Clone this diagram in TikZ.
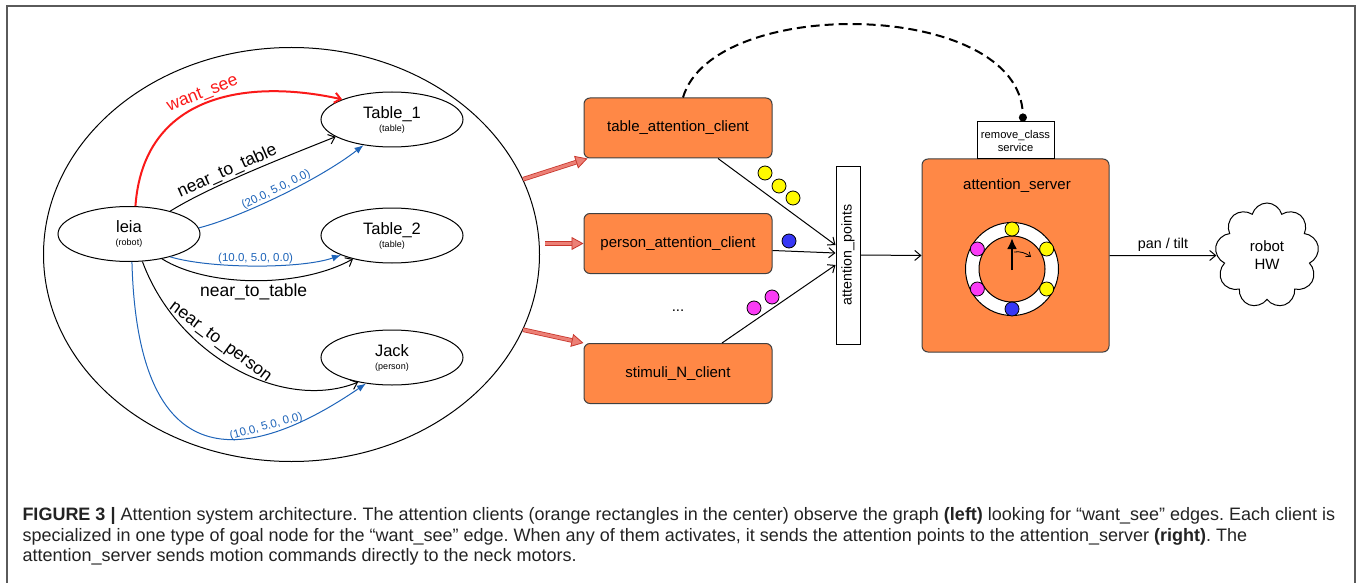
\documentclass[tikz,border=0pt]{standalone}
\usepackage{fontspec}
\setmainfont{Liberation Sans}
\usetikzlibrary{arrows.meta,shapes.geometric,shapes.symbols,calc}
\definecolor{clientorange}{RGB}{255,136,70}
\definecolor{edgeblue}{RGB}{30,100,185}
\definecolor{wantred}{RGB}{250,25,25}
\definecolor{fatfill}{RGB}{236,128,118}
\definecolor{fatline}{RGB}{200,55,45}
\definecolor{ptyellow}{RGB}{255,250,0}
\definecolor{ptblue}{RGB}{55,55,245}
\definecolor{ptmagenta}{RGB}{250,60,245}
\definecolor{framegray}{RGB}{90,90,90}
\definecolor{captiongray}{RGB}{35,35,35}
\newcommand{\fsz}[2]{\fontsize{#1}{#2}\selectfont}
\frenchspacing

\begin{document}
\begin{tikzpicture}[x=1pt,y=-1pt,line width=1pt,
    >={Straight Barb[length=6pt,width=10pt]},
    gnode/.style={draw,ellipse,minimum width=142pt,minimum height=55pt,inner sep=0pt,align=center,font=\fsz{16.5}{13}},
    client/.style={draw=black!75,fill=clientorange,rounded corners=6pt,minimum width=188pt,minimum height=60pt,font=\fsz{15}{18}},
    elabel/.style={font=\fsz{17.5}{20},inner sep=1pt},
    vlabel/.style={font=\fsz{11.5}{13},text=edgeblue,inner sep=1pt},
    blueedge/.style={edgeblue,-{Latex[length=9pt,width=7pt]}},
    fatarrow/.style={draw=fatline,double=fatfill,double distance=3pt,line width=0.8pt,-{Triangle[length=12pt,width=13pt,fill=fatfill]}},
    dot/.style={draw,line width=0.8pt}]
    \useasboundingbox (0,0) rectangle (1360,583);
    \draw[framegray,line width=1.5pt] (7,583) -- (7,6) -- (1355,6) -- (1355,583);

    \node[draw,ellipse,minimum width=496pt,minimum height=414pt] (graph) at (291.5,254.5) {};
    \node[gnode] (leia) at (129,234) {leia\\\fsz{9}{13}(robot)};
    \node[gnode] (t1) at (392,119.5) {Table\_1\\\fsz{9}{13}(table)};
    \node[gnode] (t2) at (392,235.5) {Table\_2\\\fsz{9}{13}(table)};
    \node[gnode] (jack) at (392,357.5) {Jack\\\fsz{9}{13}(person)};

    \draw[wantred,line width=2pt,->] (leia.77) .. controls +(8,-112) and +(-95,-21) .. node[pos=.5,sloped,above,elabel] (ws) {want\_see} (t1.158);
    \draw[->] (leia.29) .. controls +(40,-25) and +(-50,20) .. node[pos=.4,sloped,above,elabel] (nt1) {near\_to\_table} (t1.197);
    \draw[blueedge] (leia.5) .. controls +(40,-10) and +(-45,35) .. node[pos=.5,sloped,above,vlabel] (c1) {(20.0, 5.0, 0.0)} (t1.222);
    \draw[blueedge] (leia.-29) .. controls +(40,12) and +(-40,14) .. node[pos=.5,above,vlabel] (c2) {(10.0, 5.0, 0.0)} (t2.201);
    \draw[->] (leia.-37) .. controls +(45,28) and +(-55,30) .. node[pos=.5,below=3pt,elabel,inner sep=0pt] (nt2) {near\_to\_table} (t2.211);
    \draw[->] (leia.-64) .. controls +(35,95) and +(-75,30) .. node[pos=.4,sloped,above=5pt,elabel] (np) {near\_to\_person} (jack.216);
    \draw[blueedge] (leia.-84) .. controls +(6,227) and +(-110,75) .. node[pos=.7,sloped,above,vlabel] (c3) {(10.0, 5.0, 0.0)} (jack.225);

    \node[client] (tac) at (678,128) {table\_attention\_client};
    \node[client] (pac) at (678,243.5) {person\_attention\_client};
    \node[client] (snc) at (678,373.5) {stimuli\_N\_client};
    \node[font=\fsz{15}{18}] (more) at (678,311) {...};

    \draw[fatarrow] (graph.18) -- ([xshift=4pt]tac.south west);
    \draw[fatarrow] ($(graph.east |- pac.west)+(5,0)$) -- (pac.west);
    \draw[fatarrow] (graph.-18) -- (snc.north west);

    \node[draw,rotate=90,minimum width=178pt,minimum height=24pt,inner sep=0pt,font=\fsz{14.2}{16}] (ap) at (848,255) {attention\_points};
    \draw[->] ([xshift=40pt]tac.south) -- ([yshift=10pt]ap.north);
    \draw[->] ([yshift=-7pt]pac.east) -- ([yshift=2pt]ap.north);
    \draw[->] ([xshift=44pt]snc.north) -- ([yshift=-10pt]ap.north);

    \draw[dot,fill=ptyellow] (765,173) circle (7);
    \draw[dot,fill=ptyellow] (779,186) circle (7);
    \draw[dot,fill=ptyellow] (793,198) circle (7);
    \draw[dot,fill=ptblue] (789,241) circle (7);
    \draw[dot,fill=ptmagenta] (754,308) circle (7);
    \draw[dot,fill=ptmagenta] (772,297) circle (7);

    \node[draw=black!75,fill=clientorange,rounded corners=6pt,minimum width=187pt,minimum height=193pt] (srv) at (1015.5,255.5) {};
    \node[font=\fsz{15}{18}] (srvname) at (1017,186) {attention\_server};
    \node[draw,fill=white,minimum width=77pt,minimum height=37pt,inner sep=0pt,align=center,font=\fsz{11.2}{13}] (rcs) at (1015.5,140.5) {remove\_class\\service};
    \draw[->] (ap.south) -- (srv.west);

    \coordinate (ring) at (1012,269);
    \draw[fill=white] (ring) circle (46.5);
    \draw[fill=clientorange] (ring) circle (33);
    \foreach \a/\c in {90/ptyellow,30/ptyellow,-30/ptyellow,-90/ptblue,210/ptmagenta,150/ptmagenta}
        \draw[dot,fill=\c] ($(ring)+(\a:40pt)$) circle (7);
    \draw[line width=2.5pt,-{Latex[length=11pt,width=10pt]}] ($(ring)+(0,-1pt)$) -- ($(ring)+(0,31pt)$);
    \draw[line width=0.8pt,-{Straight Barb[length=4pt,width=6pt]}] ($(ring)+(2pt,17pt)$) .. controls +(6,-1) and +(-5,-4) .. ($(ring)+(19pt,12pt)$);

    \draw[line width=2pt,dash pattern=on 9pt off 5pt,-{Circle[length=8pt]}] ([xshift=5pt]tac.north) .. controls +(30,-103) and +(-3,-122) .. ([xshift=7.5pt]rcs.north);

    \node[draw,cloud,cloud puffs=9,aspect=1,minimum width=104pt,minimum height=105pt,inner sep=0pt,align=center,font=\fsz{15}{18}] (hw) at (1267,255.5) {robot\\HW};
    \draw[->] (srv.east) -- node[above,font=\fsz{14.3}{16}] (pt) {pan / tilt} (hw.west);

    \node[anchor=north west,align=left,inner sep=0pt,text=captiongray,font=\fsz{18}{20.5}] (cap) at (22,507) {\textbf{FIGURE 3 |} Attention system architecture. The attention clients (orange rectangles in the center) observe the graph \textbf{(left)} looking for “want\_see” edges. Each client is\\
    specialized in one type of goal node for the “want\_see” edge. When any of them activates, it sends the attention points to the attention\_server \textbf{(right)}. The\\
    attention\_server sends motion commands directly to the neck motors.};
\end{tikzpicture}
\end{document}
